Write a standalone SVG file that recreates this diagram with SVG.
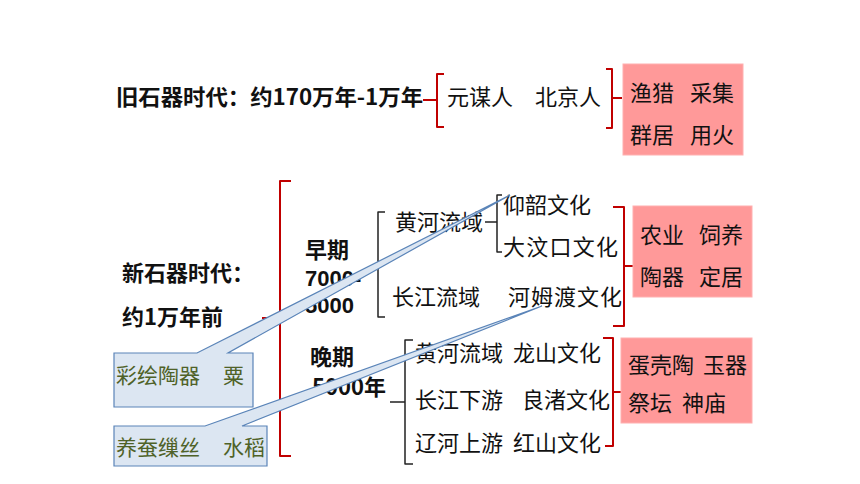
<svg xmlns="http://www.w3.org/2000/svg" width="860" height="484" viewBox="0 0 860 484">
<style>
text{font-family:"Noto Sans CJK SC","Noto Sans",sans-serif;font-size:22px;fill:#111}
.b{font-weight:bold}
.n{font-family:"Liberation Sans","Noto Sans CJK SC",sans-serif}
.c{font-size:21px;fill:#4f6228}
.pink{fill:#ff9999;stroke:#ffb0b0;stroke-width:1}
.red{fill:none;stroke:#c00000;stroke-width:2;stroke-linejoin:round}
.blk{fill:none;stroke:#222;stroke-width:1.5;stroke-linejoin:round}
.call{fill:#dce6f2;stroke:#5a84b8;stroke-width:1.2;stroke-linejoin:miter}
</style>
<rect width="860" height="484" fill="#fff"/>

<g id="connectors">
  <path class="red" d="M423,100 H437 M444,74 H437 V127 H444"/>
  <path class="red" d="M606,69 H612 V128 H606 M612,98 H622"/>
  <path class="red" d="M291,181 H280 V456 H291 M262,318 H280"/>
  <path class="blk" d="M385,212 H378 V317 H385 M372,265 H378"/>
  <path class="blk" d="M485,222 H497 M502,195 H497 V252 H502"/>
  <path class="red" d="M613,207 H624 V326 H613 M624,266 H633"/>
  <path class="blk" d="M413,340 H405 V464 H413 M390,402 H405"/>
  <path class="red" d="M603,338 H613 V446 H605 M613,392 H621"/>
</g>

<g id="paleolithic">
  <text class="b" x="116" y="105" textLength="307" lengthAdjust="spacingAndGlyphs">旧石器时代：约170万年-1万年</text>
</g>
<g id="paleo-people">
  <text x="447" y="105">元谋人</text>
  <text x="535" y="105">北京人</text>
</g>
<g id="paleo-features">
  <rect class="pink" x="623" y="64" width="120" height="91"/>
  <text x="630" y="101">渔猎</text><text x="690" y="101">采集</text>
  <text x="630" y="143">群居</text><text x="690" y="143">用火</text>
</g>

<g id="neolithic">
  <text class="b" x="122" y="281">新石器时代：</text>
  <text class="b" x="122" y="325">约1万年前</text>
</g>

<g id="early">
  <text class="b" x="305" y="258">早期</text>
  <text class="b n" x="305" y="286">7000-</text>
  <text class="b n" x="305" y="313">5000</text>
</g>
<g id="early-huanghe"><text x="395" y="230">黄河流域</text></g>
<g id="yangshao"><text x="503" y="213">仰韶文化</text></g>
<g id="dawenkou"><text x="503" y="255" textLength="115" lengthAdjust="spacing">大汶口文化</text></g>
<g id="early-changjiang"><text x="392" y="305">长江流域</text></g>
<g id="hemudu"><text x="508" y="305" textLength="114" lengthAdjust="spacing">河姆渡文化</text></g>
<g id="early-features">
  <rect class="pink" x="633" y="206" width="119" height="91"/>
  <text x="640" y="243">农业</text><text x="699" y="243">饲养</text>
  <text x="640" y="285">陶器</text><text x="699" y="285">定居</text>
</g>

<g id="late">
  <text class="b" x="310" y="365">晚期</text>
  <text class="b" x="312" y="395">5000年</text>
</g>
<g id="late-huanghe"><text x="415" y="361">黄河流域</text><text x="513" y="361">龙山文化</text></g>
<g id="late-changjiang"><text x="415" y="408">长江下游</text><text x="522" y="408">良渚文化</text></g>
<g id="late-liaohe"><text x="415" y="451">辽河上游</text><text x="513" y="451">红山文化</text></g>
<g id="late-features">
  <rect class="pink" x="621" y="338" width="131" height="85"/>
  <text x="628" y="373">蛋壳陶</text><text x="703" y="373">玉器</text>
  <text x="628" y="411">祭坛</text><text x="682" y="411">神庙</text>
</g>

<g id="callout-yangshao">
  <path class="call" d="M114,353 H197 L510,195 L228,353 H253 V407 H114 Z"/>
  <text class="c" x="116" y="383">彩绘陶器</text><text class="c" x="223" y="383">粟</text>
</g>
<g id="callout-hemudu">
  <path class="call" d="M114,426 H205 L542,306 L242,426 H267 V466 H114 Z"/>
  <text class="c" x="116" y="455">养蚕缫丝</text><text class="c" x="223" y="455">水稻</text>
</g>
</svg>
